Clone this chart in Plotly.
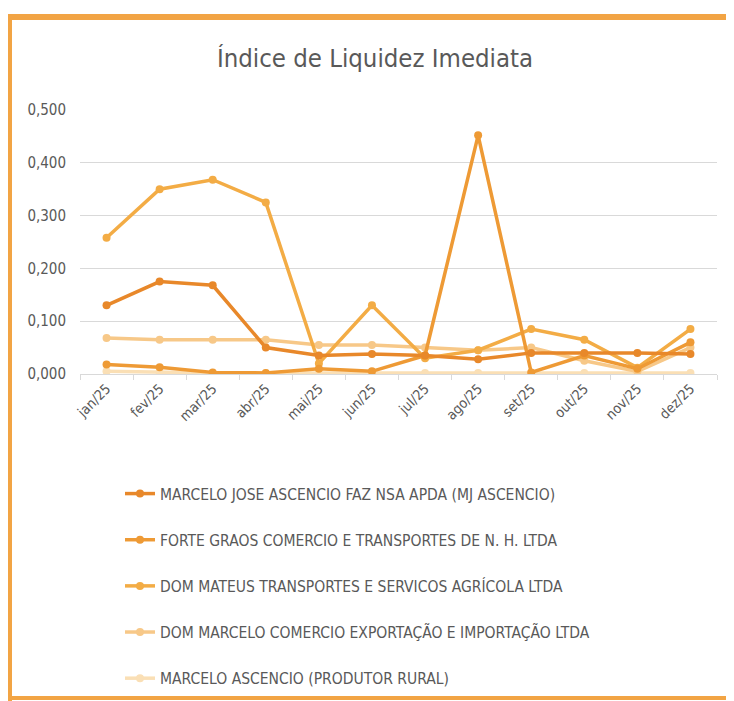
import plotly.graph_objects as go

months = ["jan/25", "fev/25", "mar/25", "abr/25", "mai/25", "jun/25",
          "jul/25", "ago/25", "set/25", "out/25", "nov/25", "dez/25"]

names = [
    "MARCELO JOSE ASCENCIO FAZ NSA APDA (MJ ASCENCIO)",
    "FORTE GRAOS COMERCIO E TRANSPORTES DE N. H. LTDA",
    "DOM MATEUS TRANSPORTES E SERVICOS AGRÍCOLA LTDA",
    "DOM MARCELO COMERCIO EXPORTAÇÃO E IMPORTAÇÃO LTDA",
    "MARCELO ASCENCIO (PRODUTOR RURAL)",
]

mj_ascencio = [0.130, 0.175, 0.168, 0.050, 0.035, 0.038, 0.035, 0.028, 0.040, 0.040, 0.040, 0.038]
forte_graos = [0.018, 0.013, 0.003, 0.002, 0.010, 0.005, 0.035, 0.452, 0.003, 0.035, 0.010, 0.060]
dom_mateus = [0.258, 0.350, 0.368, 0.325, 0.020, 0.130, 0.030, 0.045, 0.085, 0.065, 0.012, 0.085]
dom_marcelo = [0.068, 0.065, 0.065, 0.065, 0.055, 0.055, 0.050, 0.045, 0.050, 0.025, 0.005, 0.050]
produtor_rural = [0.005, 0.003, 0.002, 0.002, 0.002, 0.002, 0.002, 0.002, 0.002, 0.002, 0.002, 0.002]

series = [mj_ascencio, forte_graos, dom_mateus, dom_marcelo, produtor_rural]
colors = ["#E8882A", "#EE9A35", "#F3AC45", "#F7C888", "#FADFB5"]

FONT = "DejaVu Sans Condensed, sans-serif"

fig = go.Figure()
for i in reversed(range(len(series))):
    fig.add_trace(go.Scatter(
        x=months, y=series[i], name=names[i], mode="lines+markers",
        line=dict(color=colors[i], width=3.5),
        marker=dict(color=colors[i], size=8, symbol="circle"),
        legendrank=i + 1, legendgroup=str(i),
    ))

# plot area in figure coords (page has 8px body offset)
L, R, T, B = 72, 709, 102, 366
W, H = 726, 693
pw, ph = R - L, B - T

def px(x):
    return (x - L) / pw

def py(y):
    return (B - y) / ph

border = "#F2A444"
fig.update_layout(
    width=W, height=H,
    margin=dict(l=L, r=W - R, t=T, b=H - B, autoexpand=False),
    paper_bgcolor="white", plot_bgcolor="white",
    separators=",.",
    title=dict(text="Índice de Liquidez Imediata", x=px(367), xref="paper",
               xanchor="center", y=1 - 50 / H, yanchor="middle",
               font=dict(family=FONT, size=25.5, color="#595959")),
    font=dict(family=FONT, color="#595959"),
    xaxis=dict(range=[-0.5, 11.5], tickangle=-45, tickson="boundaries",
               ticks="outside", ticklen=5, tickcolor="#D9D9D9",
               showline=True, linecolor="#D9D9D9", linewidth=1,
               showgrid=False, tickfont=dict(size=14, color="#595959")),
    yaxis=dict(range=[0, 0.5], dtick=0.1, tickformat=".3f",
               showgrid=True, gridcolor="#D9D9D9", gridwidth=1,
               zeroline=False, showline=False,
               tickfont=dict(size=15, color="#595959"), ticklabelstandoff=13),
    legend=dict(x=px(112), y=py(469), xanchor="left", yanchor="top",
                orientation="v", tracegroupgap=23,
                font=dict(family=FONT, size=15.5, color="#595959"),
                bgcolor="rgba(0,0,0,0)"),
    shapes=[
        dict(type="line", xref="paper", yref="paper", x0=px(1), x1=px(740),
             y0=py(9), y1=py(9), line=dict(color=border, width=6)),
        dict(type="line", xref="paper", yref="paper", x0=px(1), x1=px(1),
             y0=py(6), y1=py(700), line=dict(color=border, width=6)),
        dict(type="line", xref="paper", yref="paper", x0=px(-2), x1=px(740),
             y0=py(690), y1=py(690), line=dict(color=border, width=4)),
    ],
)

fig.write_html("out.html")
